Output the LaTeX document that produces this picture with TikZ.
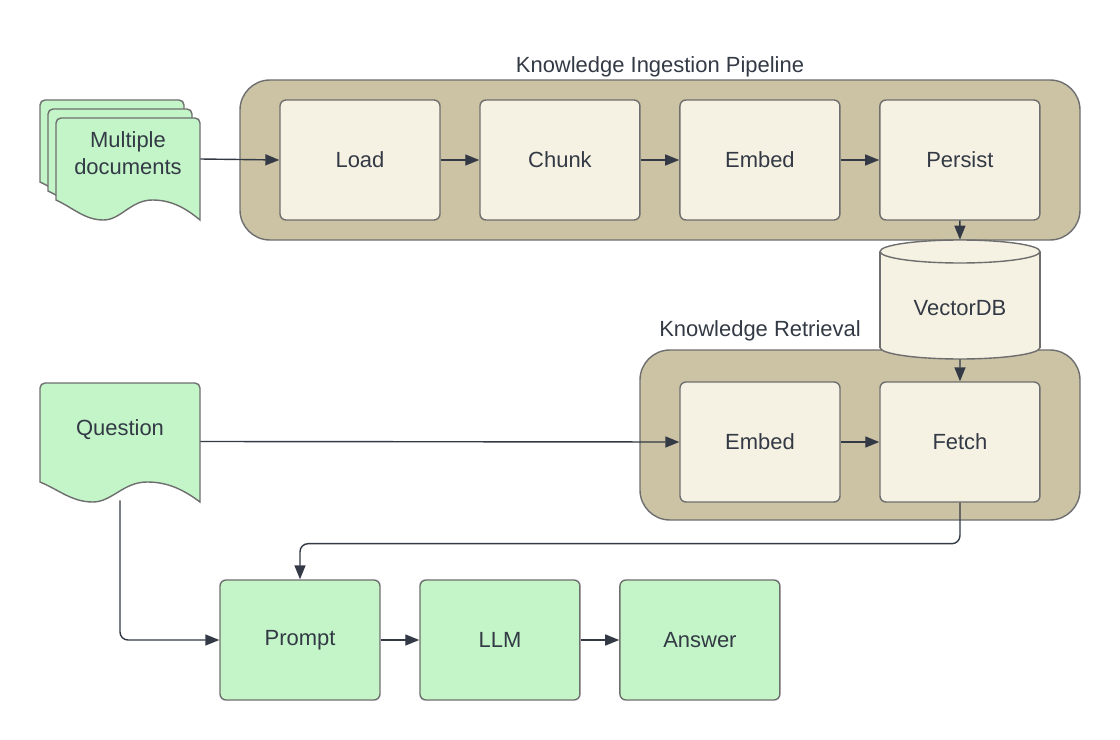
\documentclass[tikz,border=0pt]{standalone}
\usepackage{fontspec}
\setmainfont{Liberation Sans}
\usepackage{xcolor}
\usetikzlibrary{arrows.meta}
\definecolor{tanbg}{HTML}{CBC3A4}
\definecolor{creamfill}{HTML}{F6F2E3}
\definecolor{greenfill}{HTML}{C3F5C8}
\definecolor{edgegray}{HTML}{6E6E6E}
\definecolor{inkdark}{HTML}{333A45}
\tikzset{>={Triangle[length=0.28cm,width=0.22cm]}}

% one sheet of a document shape: x, top y, width, left bottom y
\newcommand{\docpage}[4]{%
  \filldraw[docsheet] (#1,#4) [rounded corners=0.1cm] -- (#1,#2) -- (#1+#3,#2) [sharp corners] -- (#1+#3,#4+20)
    .. controls (#1+0.9*#3,#4+8) and (#1+0.8*#3,#4) .. (#1+0.67*#3,#4)
    .. controls (#1+0.52*#3,#4) and (#1+0.45*#3,#4+20) .. (#1+0.33*#3,#4+20)
    .. controls (#1+0.2*#3,#4+20) and (#1+0.12*#3,#4+8) .. (#1,#4) -- cycle;}

\begin{document}
\begin{tikzpicture}[x=0.02cm, y=-0.02cm, font=\fontsize{12.5}{15}\selectfont, text=inkdark]
  % link = plain connector, stepbox = inner process box
  \tikzset{link/.style={draw=inkdark, ->, line width=0.8pt}}
  \tikzstyle{every edge}=[link]
  \tikzstyle{container}=[fill=tanbg, draw=edgegray, line width=0.8pt, rounded corners=0.6cm]
  \tikzstyle{stepbox}=[draw=edgegray, line width=0.8pt, rounded corners=0.12cm, fill=creamfill,
                       minimum width=3.2cm, minimum height=2.4cm, node distance=4cm]
  \tikzstyle{greenbox}=[stepbox, fill=greenfill]
  \tikzstyle{docsheet}=[fill=greenfill, draw=edgegray, line width=0.8pt]
  \tikzstyle{frame}=[inner sep=0pt, minimum width=3.2cm]
  \useasboundingbox (0,0) rectangle (1120,740);

  % ingestion pipeline
  \draw[container] (240,80) rectangle (1080,240);
  \node (ingesttitle) at (660,67) {Knowledge Ingestion Pipeline};
  \node[stepbox] (load) at (360,160) {Load};
  \node[stepbox] (chunk) [right of = load] {Chunk};
  \node[stepbox] (embed) [right of = chunk] {Embed};
  \node[stepbox] (persist) [right of = embed] {Persist};
  \draw (load) edge (chunk);
  \draw (chunk) edge (embed);
  \draw (embed) edge (persist);

  % stacked documents
  \docpage{40}{100}{144}{182}
  \docpage{48}{109}{144}{191}
  \docpage{56}{118}{144}{200}
  \node[frame, minimum width=2.88cm, minimum height=1.64cm] (docs) at (128,159) {};
  \node[align=center] (docstext) at (128,153) {Multiple\\documents};
  \draw (docs.east) edge (load.west);

  % retrieval
  \draw[container] (640,350) rectangle (1080,520);
  \node (retrievetitle) at (760,331) {Knowledge Retrieval};
  \node[stepbox] (embedq) at (760,442) {Embed};
  \node[stepbox] (fetch) [right of = embedq] {Fetch};

  % vector store
  \fill[creamfill] (880,251.5) rectangle (1040,347.5);
  \filldraw[fill=creamfill, draw=edgegray, line width=0.8pt] (960,347.5) ellipse [x radius=1.6cm, y radius=0.23cm];
  \fill[creamfill] (880.5,251.5) rectangle (1039.5,347.5);
  \draw[edgegray, line width=0.8pt] (880,251.5) -- (880,347.5) (1040,251.5) -- (1040,347.5);
  \filldraw[fill=creamfill, draw=edgegray, line width=0.8pt] (960,251.5) ellipse [x radius=1.6cm, y radius=0.23cm];
  \node[frame, minimum height=2.38cm] (vectordb) at (960,299.5) {};
  \node (vectordbtext) at (960,308) {VectorDB};
  \draw (persist) edge (vectordb);
  \draw (vectordb) edge (fetch);
  \draw (embedq) edge (fetch);

  % question
  \docpage{40}{383}{160}{482}
  \node[frame, minimum height=2.34cm] (question) at (120,441.5) {};
  \node (questiontext) at (120,430) {Question};
  \draw (question.east) edge (embedq.west);

  % answer generation
  \node[greenbox] (prompt) at (300,640) {Prompt};
  \node[greenbox] (llm) [right of = prompt] {LLM};
  \node[greenbox] (answer) [right of = llm] {Answer};
  \draw (prompt) edge (llm);
  \draw (llm) edge (answer);
  \draw[link, rounded corners=0.16cm] (fetch.south) -- ++(0,41) -| (prompt.north);
  \draw[link, rounded corners=0.16cm] (question.south) |- (prompt.west);
\end{tikzpicture}
\end{document}
